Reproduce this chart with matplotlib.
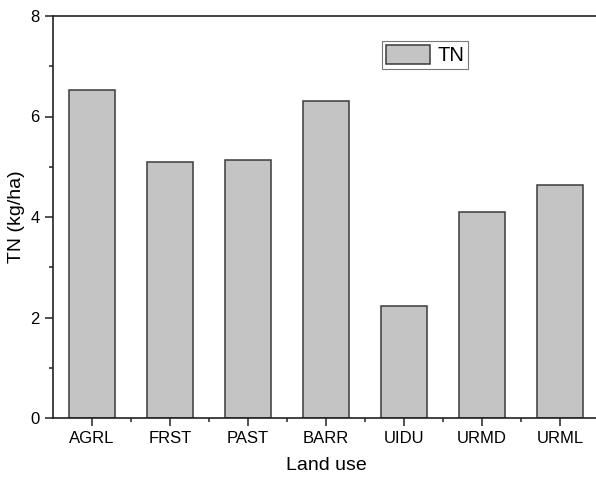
import matplotlib
matplotlib.use('Agg')
import matplotlib.pyplot as plt
from matplotlib.ticker import MultipleLocator, FixedLocator

plt.rcParams['font.family'] = ['Liberation Sans', 'DejaVu Sans']

# TN load by land use
land_use = ['AGRL', 'FRST', 'PAST', 'BARR', 'UIDU', 'URMD', 'URML']
tn = [6.53, 5.09, 5.13, 6.31, 2.22, 4.09, 4.64]

W, H = 596, 478
fig = plt.figure(figsize=(W / 100, H / 100), dpi=100)
ax = fig.add_axes([53 / W, 1 - 418 / H, 546 / W, 402 / H])

x = range(len(land_use))
ax.bar(x, tn, width=0.6, color='#c4c4c4', edgecolor='#3a3a3a', linewidth=1.1, label='TN')

ax.set_xlim(-0.5, len(land_use) - 0.5)
ax.set_ylim(0, 8)
ax.set_xticks(list(x))
ax.set_xticklabels(land_use)
ax.xaxis.set_minor_locator(FixedLocator([i + 0.5 for i in range(len(land_use) - 1)]))
ax.yaxis.set_major_locator(MultipleLocator(2))
ax.yaxis.set_minor_locator(MultipleLocator(1))

for s in ax.spines.values():
    s.set_linewidth(1.2)
    s.set_color('#222222')
ax.spines['right'].set_visible(False)

ax.tick_params(which='major', direction='out', length=5.5, width=1.1, labelsize=12, pad=4, color='#222222')
ax.tick_params(which='minor', direction='out', length=3, width=1.1, color='#222222')

ax.set_xlabel('Land use', fontsize=14, labelpad=8)
ax.set_ylabel('TN (kg/ha)', fontsize=14, labelpad=4)

leg = ax.legend(loc='upper left', bbox_to_anchor=((382 - 53) / 546, (418 - 41) / 402),
                borderaxespad=0, fontsize=14.5, handlelength=2.2, handleheight=1.05,
                handletextpad=0.35, borderpad=0.2, fancybox=False, framealpha=1)
leg.get_frame().set_edgecolor('#777777')
leg.get_frame().set_linewidth(0.8)

fig.savefig('out.png', dpi=100)
